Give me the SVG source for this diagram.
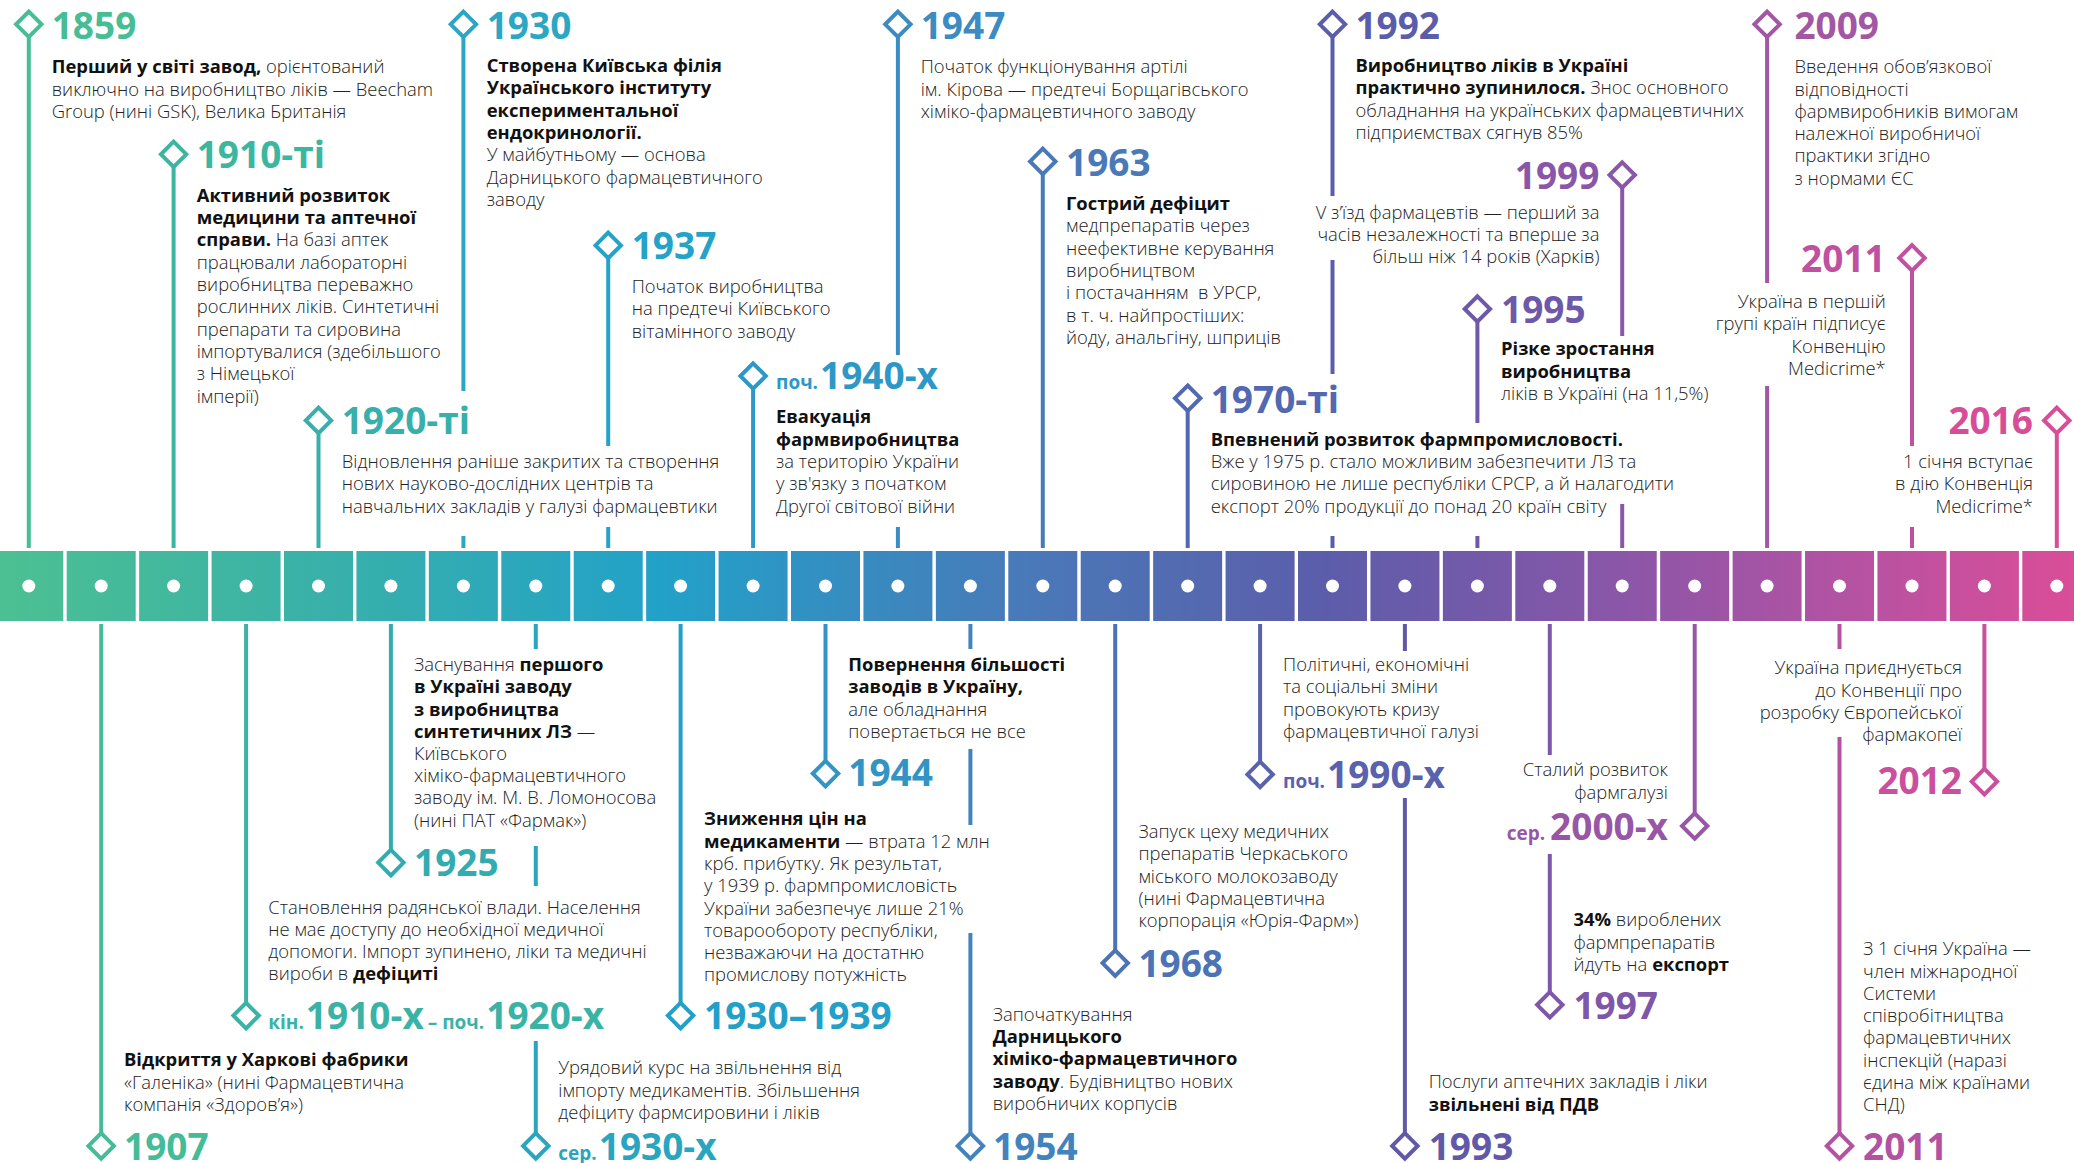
<svg xmlns="http://www.w3.org/2000/svg" xmlns:xlink="http://www.w3.org/1999/xlink" width="2074" height="1163" viewBox="0 0 2074 1163">
<defs>
<linearGradient id="bandg" gradientUnits="userSpaceOnUse" x1="0" y1="0" x2="2074" y2="0">
<stop offset="0" stop-color="#4CC092"/>
<stop offset="0.15" stop-color="#3AB1A8"/>
<stop offset="0.32" stop-color="#22A1C9"/>
<stop offset="0.5" stop-color="#4A78B8"/>
<stop offset="0.64" stop-color="#5C5DAA"/>
<stop offset="0.78" stop-color="#8A56A8"/>
<stop offset="0.9" stop-color="#B852A2"/>
<stop offset="1" stop-color="#DA4D97"/>
</linearGradient>
<path id="dm" d="M0,-12.7 L12.7,0 L0,12.7 L-12.7,0 Z" fill="#fff" stroke="currentColor" stroke-width="4"/>
</defs>
<style>
.yr{font-family:"Open Sans",sans-serif;font-weight:700;font-size:37px}
.sm{font-size:19px}
.tx{font-family:"Open Sans",sans-serif;font-weight:350;font-size:18.4px;fill:#222}
.b{font-weight:700;fill:#111}
.ln line{stroke-width:4}
</style>
<rect width="2074" height="1163" fill="#fff"/>

<g id="band">
<rect x="-5.73" y="551" width="69" height="70" fill="url(#bandg)"/>
<rect x="66.70" y="551" width="69" height="70" fill="url(#bandg)"/>
<rect x="139.13" y="551" width="69" height="70" fill="url(#bandg)"/>
<rect x="211.56" y="551" width="69" height="70" fill="url(#bandg)"/>
<rect x="283.99" y="551" width="69" height="70" fill="url(#bandg)"/>
<rect x="356.42" y="551" width="69" height="70" fill="url(#bandg)"/>
<rect x="428.85" y="551" width="69" height="70" fill="url(#bandg)"/>
<rect x="501.28" y="551" width="69" height="70" fill="url(#bandg)"/>
<rect x="573.71" y="551" width="69" height="70" fill="url(#bandg)"/>
<rect x="646.14" y="551" width="69" height="70" fill="url(#bandg)"/>
<rect x="718.57" y="551" width="69" height="70" fill="url(#bandg)"/>
<rect x="791.00" y="551" width="69" height="70" fill="url(#bandg)"/>
<rect x="863.43" y="551" width="69" height="70" fill="url(#bandg)"/>
<rect x="935.86" y="551" width="69" height="70" fill="url(#bandg)"/>
<rect x="1008.29" y="551" width="69" height="70" fill="url(#bandg)"/>
<rect x="1080.72" y="551" width="69" height="70" fill="url(#bandg)"/>
<rect x="1153.15" y="551" width="69" height="70" fill="url(#bandg)"/>
<rect x="1225.58" y="551" width="69" height="70" fill="url(#bandg)"/>
<rect x="1298.01" y="551" width="69" height="70" fill="url(#bandg)"/>
<rect x="1370.44" y="551" width="69" height="70" fill="url(#bandg)"/>
<rect x="1442.87" y="551" width="69" height="70" fill="url(#bandg)"/>
<rect x="1515.30" y="551" width="69" height="70" fill="url(#bandg)"/>
<rect x="1587.73" y="551" width="69" height="70" fill="url(#bandg)"/>
<rect x="1660.16" y="551" width="69" height="70" fill="url(#bandg)"/>
<rect x="1732.59" y="551" width="69" height="70" fill="url(#bandg)"/>
<rect x="1805.02" y="551" width="69" height="70" fill="url(#bandg)"/>
<rect x="1877.45" y="551" width="69" height="70" fill="url(#bandg)"/>
<rect x="1949.88" y="551" width="69" height="70" fill="url(#bandg)"/>
<rect x="2022.31" y="551" width="69" height="70" fill="url(#bandg)"/>
<g fill="#fff">
<circle cx="28.8" cy="586" r="6.5"/><circle cx="101.2" cy="586" r="6.5"/><circle cx="173.6" cy="586" r="6.5"/><circle cx="246.1" cy="586" r="6.5"/><circle cx="318.5" cy="586" r="6.5"/><circle cx="390.9" cy="586" r="6.5"/><circle cx="463.4" cy="586" r="6.5"/><circle cx="535.8" cy="586" r="6.5"/><circle cx="608.2" cy="586" r="6.5"/><circle cx="680.6" cy="586" r="6.5"/><circle cx="753.1" cy="586" r="6.5"/><circle cx="825.5" cy="586" r="6.5"/><circle cx="897.9" cy="586" r="6.5"/><circle cx="970.4" cy="586" r="6.5"/><circle cx="1042.8" cy="586" r="6.5"/><circle cx="1115.2" cy="586" r="6.5"/><circle cx="1187.7" cy="586" r="6.5"/><circle cx="1260.1" cy="586" r="6.5"/><circle cx="1332.5" cy="586" r="6.5"/><circle cx="1404.9" cy="586" r="6.5"/><circle cx="1477.4" cy="586" r="6.5"/><circle cx="1549.8" cy="586" r="6.5"/><circle cx="1622.2" cy="586" r="6.5"/><circle cx="1694.7" cy="586" r="6.5"/><circle cx="1767.1" cy="586" r="6.5"/><circle cx="1839.5" cy="586" r="6.5"/><circle cx="1912.0" cy="586" r="6.5"/><circle cx="1984.4" cy="586" r="6.5"/><circle cx="2056.8" cy="586" r="6.5"/>
</g>
</g>

<g id="connectors" class="ln">
<line x1="28.8" y1="37" x2="28.8" y2="548" stroke="#46BD95"/>
<line x1="173.6" y1="167" x2="173.6" y2="548" stroke="#3DB6A0"/>
<line x1="318.5" y1="433" x2="318.5" y2="548" stroke="#38AFAB"/>
<line x1="463.4" y1="37" x2="463.4" y2="391" stroke="#2BA7C3"/>
<line x1="463.4" y1="536" x2="463.4" y2="548" stroke="#2BA7C3"/>
<line x1="608.2" y1="258" x2="608.2" y2="446" stroke="#25A2C8"/>
<line x1="608.2" y1="527" x2="608.2" y2="548" stroke="#25A2C8"/>
<line x1="753.1" y1="389" x2="753.1" y2="548" stroke="#2D98C6"/>
<line x1="897.9" y1="37" x2="897.9" y2="355" stroke="#3C8BC2"/>
<line x1="897.9" y1="527" x2="897.9" y2="548" stroke="#3C8BC2"/>
<line x1="1042.8" y1="174" x2="1042.8" y2="548" stroke="#4A79B8"/>
<line x1="1187.7" y1="411" x2="1187.7" y2="548" stroke="#5268B0"/>
<line x1="1332.5" y1="37" x2="1332.5" y2="196" stroke="#5B5DAA"/>
<line x1="1332.5" y1="260" x2="1332.5" y2="374" stroke="#5B5DAA"/>
<line x1="1332.5" y1="536" x2="1332.5" y2="548" stroke="#5B5DAA"/>
<line x1="1477.4" y1="322" x2="1477.4" y2="423" stroke="#6E59A9"/>
<line x1="1477.4" y1="536" x2="1477.4" y2="548" stroke="#6E59A9"/>
<line x1="1622.2" y1="188" x2="1622.2" y2="336" stroke="#8956A8"/>
<line x1="1622.2" y1="504" x2="1622.2" y2="548" stroke="#8956A8"/>
<line x1="1767.1" y1="37" x2="1767.1" y2="283" stroke="#A256A4"/>
<line x1="1767.1" y1="386" x2="1767.1" y2="548" stroke="#A256A4"/>
<line x1="1912.0" y1="271" x2="1912.0" y2="446" stroke="#C050A0"/>
<line x1="1912.0" y1="527" x2="1912.0" y2="548" stroke="#C050A0"/>
<line x1="2056.8" y1="433" x2="2056.8" y2="548" stroke="#D84D97"/>

<line x1="101.2" y1="624" x2="101.2" y2="1133" stroke="#46BB98"/>
<line x1="246.1" y1="624" x2="246.1" y2="1003" stroke="#3AB2A5"/>
<line x1="390.9" y1="624" x2="390.9" y2="850" stroke="#32ACB0"/>
<line x1="535.8" y1="624" x2="535.8" y2="649" stroke="#2AA5BF"/>
<line x1="535.8" y1="846" x2="535.8" y2="886" stroke="#2AA5BF"/>
<line x1="535.8" y1="1041" x2="535.8" y2="1133" stroke="#2AA5BF"/>
<line x1="680.6" y1="624" x2="680.6" y2="1003" stroke="#22A0C8"/>
<line x1="825.5" y1="624" x2="825.5" y2="761" stroke="#3294C5"/>
<line x1="970.4" y1="624" x2="970.4" y2="649" stroke="#4383BD"/>
<line x1="970.4" y1="749" x2="970.4" y2="825" stroke="#4383BD"/>
<line x1="970.4" y1="933" x2="970.4" y2="1133" stroke="#4383BD"/>
<line x1="1115.2" y1="624" x2="1115.2" y2="950" stroke="#4C73B4"/>
<line x1="1260.1" y1="624" x2="1260.1" y2="762" stroke="#5962AD"/>
<line x1="1404.9" y1="624" x2="1404.9" y2="651" stroke="#6258A8"/>
<line x1="1404.9" y1="798" x2="1404.9" y2="1133" stroke="#6258A8"/>
<line x1="1549.8" y1="624" x2="1549.8" y2="755" stroke="#7E57A8"/>
<line x1="1549.8" y1="854" x2="1549.8" y2="992" stroke="#7E57A8"/>
<line x1="1694.7" y1="624" x2="1694.7" y2="813" stroke="#9856A6"/>
<line x1="1839.5" y1="624" x2="1839.5" y2="649" stroke="#B452A2"/>
<line x1="1839.5" y1="737" x2="1839.5" y2="1133" stroke="#B452A2"/>
<line x1="1984.4" y1="624" x2="1984.4" y2="769" stroke="#CA4F9D"/>
</g>

<!-- TOP EVENTS -->
<g id="ev-1859">
<use xlink:href="#dm" x="28.8" y="24.3" style="color:#46BD95"/>
<text class="yr" x="51.7" y="38.6" fill="#46BD95">1859</text>
<text class="tx"><tspan x="51.7" y="73.2"><tspan class="b">Перший у світі завод,</tspan> орієнтований</tspan><tspan x="51.7" y="95.5">виключно на виробництво ліків — Beecham</tspan><tspan x="51.7" y="117.8">Group (нині GSK), Велика Британія</tspan></text>
</g>

<g id="ev-1910s">
<use xlink:href="#dm" x="173.6" y="154.3" style="color:#3DB6A0"/>
<text class="yr" x="196.7" y="167.9" fill="#3DB6A0">1910-ті</text>
<text class="tx"><tspan x="196.7" y="201.8" class="b">Активний розвиток</tspan><tspan x="196.7" y="224.1" class="b">медицини та аптечної</tspan><tspan x="196.7" y="246.4"><tspan class="b">справи.</tspan> На базі аптек</tspan><tspan x="196.7" y="268.7">працювали лабораторні</tspan><tspan x="196.7" y="291">виробництва переважно</tspan><tspan x="196.7" y="313.3">рослинних ліків. Синтетичні</tspan><tspan x="196.7" y="335.6">препарати та сировина</tspan><tspan x="196.7" y="357.9">імпортувалися (здебільшого</tspan><tspan x="196.7" y="380.2">з Німецької</tspan><tspan x="196.7" y="402.5">імперії)</tspan></text>
</g>

<g id="ev-1920s">
<use xlink:href="#dm" x="318.5" y="420.4" style="color:#38AFAB"/>
<text class="yr" x="341.7" y="434" fill="#38AFAB">1920-ті</text>
<text class="tx"><tspan x="341.7" y="467.9">Відновлення раніше закритих та створення</tspan><tspan x="341.7" y="490.2">нових науково-дослідних центрів та</tspan><tspan x="341.7" y="512.5">навчальних закладів у галузі фармацевтики</tspan></text>
</g>

<g id="ev-1930">
<use xlink:href="#dm" x="463.4" y="24.3" style="color:#2BA7C3"/>
<text class="yr" x="486.7" y="38.6" fill="#2BA7C3">1930</text>
<text class="tx"><tspan x="486.7" y="72" class="b">Створена Київська філія</tspan><tspan x="486.7" y="94.3" class="b">Українського інституту</tspan><tspan x="486.7" y="116.6" class="b">експериментальної</tspan><tspan x="486.7" y="138.9" class="b">ендокринології.</tspan><tspan x="486.7" y="161.2">У майбутньому — основа</tspan><tspan x="486.7" y="183.5">Дарницького фармацевтичного</tspan><tspan x="486.7" y="205.8">заводу</tspan></text>
</g>

<g id="ev-1937">
<use xlink:href="#dm" x="608.2" y="245.4" style="color:#25A2C8"/>
<text class="yr" x="631.7" y="259" fill="#25A2C8">1937</text>
<text class="tx"><tspan x="631.7" y="292.9">Початок виробництва</tspan><tspan x="631.7" y="315.2">на предтечі Київського</tspan><tspan x="631.7" y="337.5">вітамінного заводу</tspan></text>
</g>

<g id="ev-1940s">
<use xlink:href="#dm" x="753.1" y="376" style="color:#2D98C6"/>
<text class="yr" x="776" y="389.3" fill="#2D98C6"><tspan class="sm">поч.</tspan><tspan dx="2">1940-х</tspan></text>
<text class="tx"><tspan x="776" y="423.3" class="b">Евакуація</tspan><tspan x="776" y="445.6" class="b">фармвиробництва</tspan><tspan x="776" y="467.9">за територію України</tspan><tspan x="776" y="490.2">у зв'язку з початком</tspan><tspan x="776" y="512.5">Другої світової війни</tspan></text>
</g>

<g id="ev-1947">
<use xlink:href="#dm" x="897.9" y="24.3" style="color:#3C8BC2"/>
<text class="yr" x="920.7" y="38.6" fill="#3C8BC2">1947</text>
<text class="tx"><tspan x="920.7" y="73.2">Початок функціонування артілі</tspan><tspan x="920.7" y="95.5">ім. Кірова — предтечі Борщагівського</tspan><tspan x="920.7" y="117.8">хіміко-фармацевтичного заводу</tspan></text>
</g>

<g id="ev-1963">
<use xlink:href="#dm" x="1042.8" y="161.4" style="color:#4A79B8"/>
<text class="yr" x="1066" y="175.7" fill="#4A79B8">1963</text>
<text class="tx"><tspan x="1066" y="210" class="b">Гострий дефіцит</tspan><tspan x="1066" y="232.3">медпрепаратів через</tspan><tspan x="1066" y="254.6">неефективне керування</tspan><tspan x="1066" y="276.9">виробництвом</tspan><tspan x="1066" y="299.2" xml:space="preserve">і постачанням  в УРСР,</tspan><tspan x="1066" y="321.5">в т. ч. найпростіших:</tspan><tspan x="1066" y="343.8">йоду, анальгіну, шприців</tspan></text>
</g>

<g id="ev-1970s">
<use xlink:href="#dm" x="1187.7" y="398.2" style="color:#5268B0"/>
<text class="yr" x="1210.7" y="412.5" fill="#5268B0">1970-ті</text>
<text class="tx"><tspan x="1210.7" y="445.6" class="b">Впевнений розвиток фармпромисловості.</tspan><tspan x="1210.7" y="467.9">Вже у 1975 р. стало можливим забезпечити ЛЗ та</tspan><tspan x="1210.7" y="490.2">сировиною не лише республіки СРСР, а й налагодити</tspan><tspan x="1210.7" y="512.5">експорт 20% продукції до понад 20 країн світу</tspan></text>
</g>

<g id="ev-1992">
<use xlink:href="#dm" x="1332.5" y="24.3" style="color:#5B5DAA"/>
<text class="yr" x="1355.4" y="38.6" fill="#5B5DAA">1992</text>
<text class="tx"><tspan x="1355.4" y="72" class="b">Виробництво ліків в Україні</tspan><tspan x="1355.4" y="94.3"><tspan class="b">практично зупинилося.</tspan> Знос основного</tspan><tspan x="1355.4" y="116.6">обладнання на українських фармацевтичних</tspan><tspan x="1355.4" y="138.9">підприємствах сягнув 85%</tspan></text>
</g>

<g id="ev-1999">
<use xlink:href="#dm" x="1622.2" y="175" style="color:#8956A8"/>
<text class="yr" x="1599.4" y="188.6" fill="#8956A8" text-anchor="end">1999</text>
<text class="tx" text-anchor="end"><tspan x="1599.4" y="218.6">V з’їзд фармацевтів — перший за</tspan><tspan x="1599.4" y="240.9">часів незалежності та вперше за</tspan><tspan x="1599.4" y="263.2">більш ніж 14 років (Харків)</tspan></text>
</g>

<g id="ev-1995">
<use xlink:href="#dm" x="1477.4" y="309" style="color:#6E59A9"/>
<text class="yr" x="1501" y="323.2" fill="#6E59A9">1995</text>
<text class="tx"><tspan x="1501" y="355.4" class="b">Різке зростання</tspan><tspan x="1501" y="377.7" class="b">виробництва</tspan><tspan x="1501" y="400">ліків в Україні (на 11,5%)</tspan></text>
</g>

<g id="ev-2009">
<use xlink:href="#dm" x="1767.1" y="24.3" style="color:#A256A4"/>
<text class="yr" x="1794.4" y="38.6" fill="#A256A4">2009</text>
<text class="tx"><tspan x="1794.4" y="73.2">Введення обов’язкової</tspan><tspan x="1794.4" y="95.5">відповідності</tspan><tspan x="1794.4" y="117.8">фармвиробників вимогам</tspan><tspan x="1794.4" y="140.1">належної виробничої</tspan><tspan x="1794.4" y="162.4">практики згідно</tspan><tspan x="1794.4" y="184.7">з нормами ЄС</tspan></text>
</g>

<g id="ev-2011a">
<use xlink:href="#dm" x="1912.0" y="257.9" style="color:#C050A0"/>
<text class="yr" x="1885.7" y="272" fill="#C050A0" text-anchor="end">2011</text>
<text class="tx" text-anchor="end"><tspan x="1885.7" y="307.9">Україна в першій</tspan><tspan x="1885.7" y="330.2">групі країн підписує</tspan><tspan x="1885.7" y="352.5">Конвенцію</tspan><tspan x="1885.7" y="374.8">Medicrime*</tspan></text>
</g>

<g id="ev-2016">
<use xlink:href="#dm" x="2056.8" y="420.4" style="color:#D84D97"/>
<text class="yr" x="2033" y="434" fill="#D84D97" text-anchor="end">2016</text>
<text class="tx" text-anchor="end"><tspan x="2033" y="467.9">1 січня вступає</tspan><tspan x="2033" y="490.2">в дію Конвенція</tspan><tspan x="2033" y="512.5">Medicrime*</tspan></text>
</g>

<!-- BOTTOM EVENTS -->
<g id="ev-1907">
<use xlink:href="#dm" x="101.2" y="1145.9" style="color:#46BB98"/>
<text class="yr" x="124" y="1159.8" fill="#46BB98">1907</text>
<text class="tx"><tspan x="124" y="1066.4" class="b">Відкриття у Харкові фабрики</tspan><tspan x="124" y="1088.7">«Галеніка» (нині Фармацевтична</tspan><tspan x="124" y="1111">компанія «Здоров’я»)</tspan></text>
</g>

<g id="ev-1910-1920">
<use xlink:href="#dm" x="246.1" y="1015.6" style="color:#3AB2A5"/>
<text class="yr" x="268.3" y="1028.7" fill="#3AB2A5"><tspan class="sm">кін.</tspan><tspan dx="2">1910-х</tspan><tspan class="sm" dx="4">– поч.</tspan><tspan dx="2">1920-х</tspan></text>
<text class="tx"><tspan x="268.3" y="913.5">Становлення радянської влади. Населення</tspan><tspan x="268.3" y="935.8">не має доступу до необхідної медичної</tspan><tspan x="268.3" y="958.1">допомоги. Імпорт зупинено, ліки та медичні</tspan><tspan x="268.3" y="980.4">вироби в <tspan class="b">дефіциті</tspan></tspan></text>
</g>

<g id="ev-1925">
<use xlink:href="#dm" x="390.9" y="862.6" style="color:#32ACB0"/>
<text class="yr" x="414" y="875.7" fill="#32ACB0">1925</text>
<text class="tx"><tspan x="414" y="671.1">Заснування <tspan class="b">першого</tspan></tspan><tspan x="414" y="693.3" class="b">в Україні заводу</tspan><tspan x="414" y="715.5" class="b">з виробництва</tspan><tspan x="414" y="737.7"><tspan class="b">синтетичних ЛЗ</tspan> —</tspan><tspan x="414" y="759.9">Київського</tspan><tspan x="414" y="782.1">хіміко-фармацевтичного</tspan><tspan x="414" y="804.3">заводу ім. М. В. Ломоносова</tspan><tspan x="414" y="826.5">(нині ПАТ «Фармак»)</tspan></text>
</g>

<g id="ev-1930s">
<use xlink:href="#dm" x="535.8" y="1145.9" style="color:#2AA5BF"/>
<text class="yr" x="558.3" y="1159.8" fill="#2AA5BF"><tspan class="sm">сер.</tspan><tspan dx="2">1930-х</tspan></text>
<text class="tx"><tspan x="558.3" y="1074.4">Урядовий курс на звільнення від</tspan><tspan x="558.3" y="1096.7">імпорту медикаментів. Збільшення</tspan><tspan x="558.3" y="1119">дефіциту фармсировини і ліків</tspan></text>
</g>

<g id="ev-1930-1939">
<use xlink:href="#dm" x="680.6" y="1015.6" style="color:#22A0C8"/>
<text class="yr" x="704" y="1028.7" fill="#22A0C8">1930–1939</text>
<text class="tx"><tspan x="704" y="825.3" class="b">Зниження цін на</tspan><tspan x="704" y="847.6"><tspan class="b">медикаменти</tspan> — втрата 12 млн</tspan><tspan x="704" y="869.9">крб. прибутку. Як результат,</tspan><tspan x="704" y="892.2">у 1939 р. фармпромисловість</tspan><tspan x="704" y="914.5">України забезпечує лише 21%</tspan><tspan x="704" y="936.8">товарообороту республіки,</tspan><tspan x="704" y="959.1">незважаючи на достатню</tspan><tspan x="704" y="981.4">промислову потужність</tspan></text>
</g>

<g id="ev-1944">
<use xlink:href="#dm" x="825.5" y="773.6" style="color:#3294C5"/>
<text class="yr" x="848.3" y="786.3" fill="#3294C5">1944</text>
<text class="tx"><tspan x="848.3" y="671.1" class="b">Повернення більшості</tspan><tspan x="848.3" y="693.4" class="b">заводів в Україну,</tspan><tspan x="848.3" y="715.7">але обладнання</tspan><tspan x="848.3" y="738">повертається не все</tspan></text>
</g>

<g id="ev-1954">
<use xlink:href="#dm" x="970.4" y="1145.9" style="color:#4383BD"/>
<text class="yr" x="993" y="1159.8" fill="#4383BD">1954</text>
<text class="tx"><tspan x="992.7" y="1020.7">Започаткування</tspan><tspan x="992.7" y="1043" class="b">Дарницького</tspan><tspan x="992.7" y="1065.3" class="b">хіміко-фармацевтичного</tspan><tspan x="992.7" y="1087.6"><tspan class="b">заводу</tspan>. Будівництво нових</tspan><tspan x="992.7" y="1109.9">виробничих корпусів</tspan></text>
</g>

<g id="ev-1968">
<use xlink:href="#dm" x="1115.2" y="963.1" style="color:#4C73B4"/>
<text class="yr" x="1138.4" y="977" fill="#4C73B4">1968</text>
<text class="tx"><tspan x="1138.4" y="838">Запуск цеху медичних</tspan><tspan x="1138.4" y="860.3">препаратів Черкаського</tspan><tspan x="1138.4" y="882.6">міського молокозаводу</tspan><tspan x="1138.4" y="904.9">(нині Фармацевтична</tspan><tspan x="1138.4" y="927.2">корпорація «Юрія-Фарм»)</tspan></text>
</g>

<g id="ev-1990s">
<use xlink:href="#dm" x="1260.1" y="774.4" style="color:#5962AD"/>
<text class="yr" x="1283" y="788.3" fill="#5962AD"><tspan class="sm">поч.</tspan><tspan dx="2">1990-х</tspan></text>
<text class="tx"><tspan x="1283" y="671.1">Політичні, економічні</tspan><tspan x="1283" y="693.4">та соціальні зміни</tspan><tspan x="1283" y="715.7">провокують кризу</tspan><tspan x="1283" y="738">фармацевтичної галузі</tspan></text>
</g>

<g id="ev-1993">
<use xlink:href="#dm" x="1404.9" y="1145.9" style="color:#6258A8"/>
<text class="yr" x="1428.7" y="1159.8" fill="#6258A8">1993</text>
<text class="tx"><tspan x="1428.7" y="1088.3">Послуги аптечних закладів і ліки</tspan><tspan x="1428.7" y="1110.6" class="b">звільнені від ПДВ</tspan></text>
</g>

<g id="ev-1997">
<use xlink:href="#dm" x="1549.8" y="1004.8" style="color:#7E57A8"/>
<text class="yr" x="1573.4" y="1018.7" fill="#7E57A8">1997</text>
<text class="tx"><tspan x="1573.4" y="926.2"><tspan class="b">34%</tspan> вироблених</tspan><tspan x="1573.4" y="948.5">фармпрепаратів</tspan><tspan x="1573.4" y="970.8">йдуть на <tspan class="b">експорт</tspan></tspan></text>
</g>

<g id="ev-2000s">
<use xlink:href="#dm" x="1694.7" y="826" style="color:#9856A6"/>
<text class="yr" x="1668" y="840" fill="#9856A6" text-anchor="end"><tspan class="sm">сер. </tspan><tspan>2000-х</tspan></text>
<text class="tx" text-anchor="end"><tspan x="1668" y="776.4">Сталий розвиток</tspan><tspan x="1668" y="798.7">фармгалузі</tspan></text>
</g>

<g id="ev-2011b">
<use xlink:href="#dm" x="1839.5" y="1145.9" style="color:#B452A2"/>
<text class="yr" x="1863" y="1159.8" fill="#B452A2">2011</text>
<text class="tx"><tspan x="1863" y="955.2">З 1 січня Україна —</tspan><tspan x="1863" y="977.5">член міжнародної</tspan><tspan x="1863" y="999.8">Системи</tspan><tspan x="1863" y="1022.1">співробітництва</tspan><tspan x="1863" y="1044.4">фармацевтичних</tspan><tspan x="1863" y="1066.7">інспекцій (наразі</tspan><tspan x="1863" y="1089">єдина між країнами</tspan><tspan x="1863" y="1111.3">СНД)</tspan></text>
</g>

<g id="ev-2012">
<use xlink:href="#dm" x="1984.4" y="781.6" style="color:#CA4F9D"/>
<text class="yr" x="1962" y="794.3" fill="#CA4F9D" text-anchor="end">2012</text>
<text class="tx" text-anchor="end"><tspan x="1962" y="674.3">Україна приєднується</tspan><tspan x="1962" y="696.6">до Конвенції про</tspan><tspan x="1962" y="718.9">розробку Європейської</tspan><tspan x="1962" y="741.2">фармакопеї</tspan></text>
</g>
</svg>
